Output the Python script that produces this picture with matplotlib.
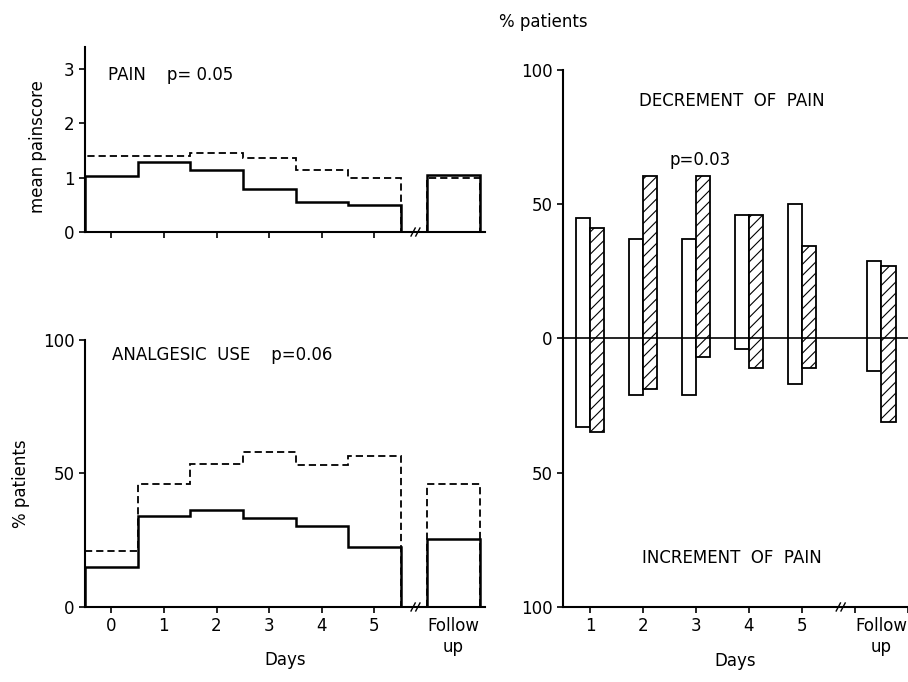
import numpy as np
import matplotlib
matplotlib.use("Agg")
import matplotlib.pyplot as plt
import matplotlib.transforms as mtransforms

plt.rcParams['font.family'] = ['DejaVu Sans']
plt.rcParams['font.size'] = 12
plt.rcParams['hatch.linewidth'] = 0.8

# --- data ---
days = np.array([0, 1, 2, 3, 4, 5])
follow_up_x = 6.5

# mean painscore
pain_solid = [1.04, 1.29, 1.14, 0.79, 0.55, 0.49]
pain_solid_fu = 1.06
pain_dashed = [1.40, 1.40, 1.45, 1.36, 1.15, 1.00]
pain_dashed_fu = 1.00

# analgesic use, % patients
analg_solid = [15, 34, 36.5, 33.5, 30.5, 22.5]
analg_solid_fu = 25.5
analg_dashed = [21, 46, 53.5, 58, 53, 56.5]
analg_dashed_fu = 46

# decrement / increment of pain, % patients
bar_days = [1, 2, 3, 4, 5, 6.5]
open_decr = [45, 37, 37, 46, 50, 29]
open_incr = [33, 21, 21, 4, 17, 12]
hatch_decr = [41, 60.5, 60.5, 46, 34.5, 27]
hatch_incr = [35, 19, 7, 11, 11, 31]

day_labels = ['0', '1', '2', '3', '4', '5']

fig = plt.figure(figsize=(9.08, 6.82), dpi=100)
ax1 = fig.add_axes([0.0936, 0.6598, 0.4405, 0.2713])
ax2 = fig.add_axes([0.0936, 0.1100, 0.4405, 0.3915])
ax3 = fig.add_axes([0.6200, 0.1100, 0.3800, 0.7874])


def style(ax):
    for s in ['top', 'right']:
        ax.spines[s].set_visible(False)
    for s in ['left', 'bottom']:
        ax.spines[s].set_linewidth(1.5)
    ax.tick_params(direction='out', length=4, width=1.2, labelsize=12)


def draw_break(ax, x):
    # two short slanted strokes "//" on the x axis, fixed size in pixels
    tr = mtransforms.blended_transform_factory(ax.transData, ax.transAxes)
    h = ax.get_position().height * fig.get_figheight() * fig.dpi
    dy = 4.0 / h
    for dx in (-0.045, 0.045):
        ax.plot([x + dx - 0.04, x + dx + 0.04], [-dy, dy], color='k',
                lw=1.0, transform=tr, clip_on=False)


edges = np.append(days - 0.5, days[-1] + 0.5)
fu_edges = [follow_up_x - 0.5, follow_up_x + 0.5]
dash = (0, (4, 2.2))

# PAIN
style(ax1)
ax1.stairs(pain_solid, edges, baseline=0, color='k', lw=1.8)
ax1.stairs(pain_dashed, edges, baseline=0, color='k', lw=1.3, linestyle=dash)
ax1.stairs([pain_solid_fu], fu_edges, baseline=0, color='k', lw=1.8)
ax1.stairs([pain_dashed_fu], fu_edges, baseline=0, color='k', lw=1.3, linestyle=dash)
ax1.set_xlim(-0.5, 7.1)
ax1.set_ylim(0, 3.41)
ax1.set_xticks(days)
ax1.set_xticklabels([])
ax1.set_yticks([0, 1, 2, 3])
ax1.set_ylabel('mean painscore')
ax1.yaxis.set_label_coords(-0.095, 0.46)
ax1.text(0.058, 0.85, 'PAIN    p= 0.05', transform=ax1.transAxes, va='center')
draw_break(ax1, 5.78)

# ANALGESIC USE
style(ax2)
ax2.stairs(analg_solid, edges, baseline=0, color='k', lw=1.8)
ax2.stairs(analg_dashed, edges, baseline=0, color='k', lw=1.3, linestyle=dash)
ax2.stairs([analg_solid_fu], fu_edges, baseline=0, color='k', lw=1.8)
ax2.stairs([analg_dashed_fu], fu_edges, baseline=0, color='k', lw=1.3, linestyle=dash)
ax2.set_xlim(-0.5, 7.1)
ax2.set_ylim(0, 100)
ax2.set_xticks(days)
ax2.set_xticklabels(day_labels)
ax2.set_xticks([follow_up_x], ['Follow\nup'], minor=True)
ax2.tick_params(axis='x', which='minor', length=0, labelsize=12, pad=7)
ax2.set_yticks([0, 50, 100])
ax2.set_ylabel('% patients')
ax2.yaxis.set_label_coords(-0.1375, 0.46)
ax2.set_xlabel('Days')
ax2.xaxis.set_label_coords(0.5, -0.165)
ax2.text(0.0675, 0.944, 'ANALGESIC  USE    p=0.06', transform=ax2.transAxes, va='center')
draw_break(ax2, 5.78)

# DECREMENT / INCREMENT
style(ax3)
w = 0.27
x_open = np.array(bar_days) - w / 2
x_hatch = np.array(bar_days) + w / 2
ax3.bar(x_open, np.add(open_decr, open_incr), bottom=-np.array(open_incr), width=w,
        facecolor='white', edgecolor='k', lw=1.3)
ax3.bar(x_hatch, np.add(hatch_decr, hatch_incr), bottom=-np.array(hatch_incr), width=w,
        facecolor='white', edgecolor='k', lw=1.3, hatch='///')
ax3.axhline(0, color='k', lw=1.2)
ax3.set_xlim(0.49, 6.98)
ax3.set_ylim(-100, 100)
ax3.set_xticks([1, 2, 3, 4, 5, 6, 7])
ax3.set_xticklabels(['1', '2', '3', '4', '5', '', ''])
ax3.set_xticks([6.5], ['Follow\nup'], minor=True)
ax3.tick_params(axis='x', which='minor', length=0, labelsize=12, pad=7)
ax3.set_yticks([-100, -50, 0, 50, 100])
ax3.set_yticklabels(['100', '50', '0', '50', '100'])
ax3.set_xlabel('Days')
ax3.xaxis.set_label_coords(0.5, -0.084)
ax3.text(0.49, 0.942, 'DECREMENT  OF  PAIN', transform=ax3.transAxes, ha='center', va='center')
ax3.text(0.397, 0.832, 'p=0.03', transform=ax3.transAxes, ha='center', va='center')
ax3.text(0.49, 0.091, 'INCREMENT  OF  PAIN', transform=ax3.transAxes, ha='center', va='center')
draw_break(ax3, 5.73)

fig.text(543 / 908, 1 - 22 / 682, '% patients', ha='center', va='center', fontsize=12)

fig.savefig('out.png', dpi=100)
